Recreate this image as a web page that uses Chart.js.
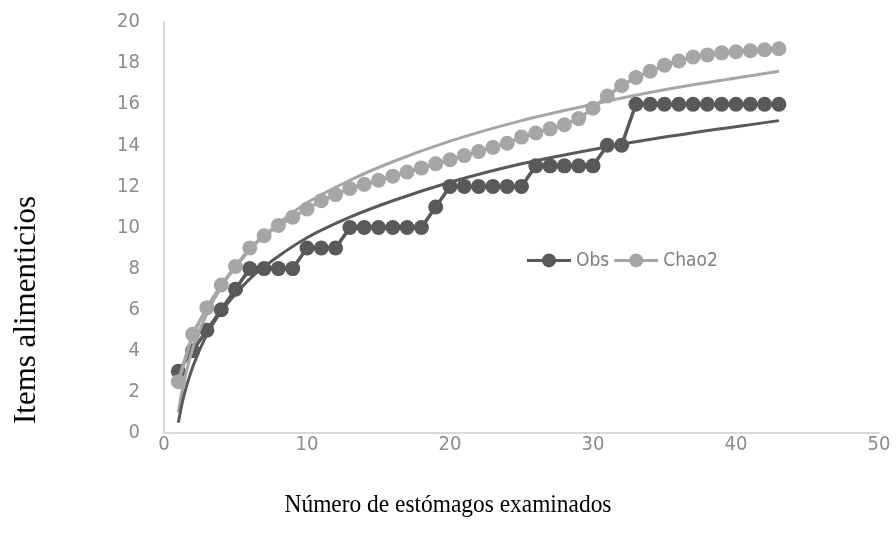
<!DOCTYPE html>
<html>
<head>
<meta charset="utf-8">
<script src="https://cdn.jsdelivr.net/npm/chart.js@4.4.1/dist/chart.umd.min.js"></script>
<style>
  html, body { margin: 0; padding: 0; background: #fff; }
  #wrap { position: relative; width: 896px; height: 541px; }
  .title { position: absolute; white-space: nowrap; color: #000; font-family: 'Liberation Serif', 'Times New Roman', serif; }
  #yTitle { left: 25px; top: 310px; font-size: 31px; transform: translate(-50%, -50%) rotate(-90deg); }
  #xTitle { left: 448px; top: 504px; font-size: 26px; transform: translate(-50%, -50%) scaleX(0.9); }
</style>
</head>
<body>
<div id="wrap">
  <canvas id="curveChart" width="896" height="541"></canvas>
  <div class="title" id="yTitle">Items alimenticios</div>
  <div class="title" id="xTitle">Número de estómagos examinados</div>
</div>
<script>
// stomachs examined (x) and accumulated food items
const samples = [1, 2, 3, 4, 5, 6, 7, 8, 9, 10, 11, 12, 13, 14, 15, 16, 17, 18, 19, 20, 21, 22,
  23, 24, 25, 26, 27, 28, 29, 30, 31, 32, 33, 34, 35, 36, 37, 38, 39, 40, 41, 42, 43];
const obs = [3, 4, 5, 6, 7, 8, 8, 8, 8, 9, 9, 9, 10, 10, 10, 10, 10, 10, 11, 12, 12, 12,
  12, 12, 12, 13, 13, 13, 13, 13, 14, 14, 16, 16, 16, 16, 16, 16, 16, 16, 16, 16, 16];
const chao2 = [2.5, 4.8, 6.1, 7.2, 8.1, 9.0, 9.6, 10.1, 10.5, 10.9, 11.3, 11.6, 11.9, 12.1, 12.3,
  12.5, 12.7, 12.9, 13.1, 13.3, 13.5, 13.7, 13.9, 14.1, 14.4, 14.6, 14.8, 15.0, 15.3, 15.8,
  16.4, 16.9, 17.3, 17.6, 17.9, 18.1, 18.3, 18.4, 18.5, 18.55, 18.6, 18.65, 18.7];

// trend lines at a few x positions
const trendX = [1, 1.25, 1.5, 2, 3, 4, 6, 8, 10, 13, 16, 20, 25, 30, 35, 43];
const obsTrend = [0.5, 1.4, 2.1, 3.2, 4.8, 5.9, 7.5, 8.6, 9.5, 10.5, 11.3, 12.2, 13.1, 13.8, 14.4, 15.2];
const chaoTrend = [1.0, 2.0, 2.8, 4.1, 5.8, 7.1, 8.9, 10.2, 11.2, 12.3, 13.2, 14.2, 15.2, 16.0, 16.7, 17.6];

const seriesNames = ['Obs', 'Chao2'];
const seriesColors = ['#595959', '#a6a6a6'];

const toPoints = (xs, ys) => xs.map((x, i) => ({ x: x, y: ys[i] }));
const tickFont = { family: "'DejaVu Sans Condensed', 'Open Sans', sans-serif", size: 20 };

// legend drawn inside the plot, like the original
const inlineLegend = {
  id: 'inlineLegend',
  afterDraw(chart) {
    const { ctx, chartArea, scales } = chart;
    const y = scales.y.getPixelForValue(8.4);
    let x = chartArea.left + 363;
    ctx.save();
    ctx.font = "19px 'DejaVu Sans Condensed', 'Open Sans', sans-serif";
    ctx.textBaseline = 'middle';
    seriesNames.forEach((name, i) => {
      ctx.strokeStyle = seriesColors[i];
      ctx.lineWidth = 3;
      ctx.beginPath();
      ctx.moveTo(x, y);
      ctx.lineTo(x + 44, y);
      ctx.stroke();
      ctx.fillStyle = seriesColors[i];
      ctx.beginPath();
      ctx.arc(x + 22, y, 7, 0, Math.PI * 2);
      ctx.fill();
      ctx.fillStyle = '#7f7f7f';
      ctx.fillText(name, x + 49, y + 1);
      x += 49 + ctx.measureText(name).width + 5;
    });
    ctx.restore();
  }
};

const ctx = document.getElementById('curveChart').getContext('2d');
const curveChart = new Chart(ctx, {
  type: 'line',
  data: {
    datasets: [{
      label: 'Obs trend',
      data: toPoints(trendX, obsTrend),
      borderColor: seriesColors[0],
      borderWidth: 3,
      pointRadius: 0,
      cubicInterpolationMode: 'monotone',
      fill: false
    }, {
      label: 'Chao2 trend',
      data: toPoints(trendX, chaoTrend),
      borderColor: seriesColors[1],
      borderWidth: 3,
      pointRadius: 0,
      cubicInterpolationMode: 'monotone',
      fill: false
    }, {
      label: seriesNames[1],
      data: toPoints(samples, chao2),
      borderColor: seriesColors[1],
      backgroundColor: seriesColors[1],
      borderWidth: 3.5,
      pointRadius: 7.5,
      pointBorderWidth: 0,
      fill: false
    }, {
      label: seriesNames[0],
      data: toPoints(samples, obs),
      borderColor: seriesColors[0],
      backgroundColor: seriesColors[0],
      borderWidth: 3.5,
      pointRadius: 7.5,
      pointBorderWidth: 0,
      fill: false
    }]
  },
  options: {
    responsive: false,
    animation: false,
    layout: { padding: { top: 22, right: 17, bottom: 0, left: 0 } },
    plugins: {
      legend: { display: false },
      tooltip: { enabled: false }
    },
    scales: {
      x: {
        type: 'linear',
        min: 0,
        max: 50,
        ticks: { stepSize: 10, color: '#8c8c8c', font: tickFont, padding: 0, maxRotation: 0 },
        grid: { display: false, drawTicks: false },
        border: { display: true, color: '#d9d9d9', width: 2 },
        afterFit: scale => { scale.height = 108; }
      },
      y: {
        min: 0,
        max: 20,
        ticks: { stepSize: 2, color: '#8c8c8c', font: tickFont, padding: 24 },
        grid: { display: false, drawTicks: false },
        border: { display: true, color: '#d9d9d9', width: 2 },
        afterFit: scale => {
          scale.width = 164;
          scale.paddingTop = 0;
          scale.paddingBottom = 0;
        }
      }
    }
  },
  plugins: [inlineLegend]
});
</script>
</body>
</html>
